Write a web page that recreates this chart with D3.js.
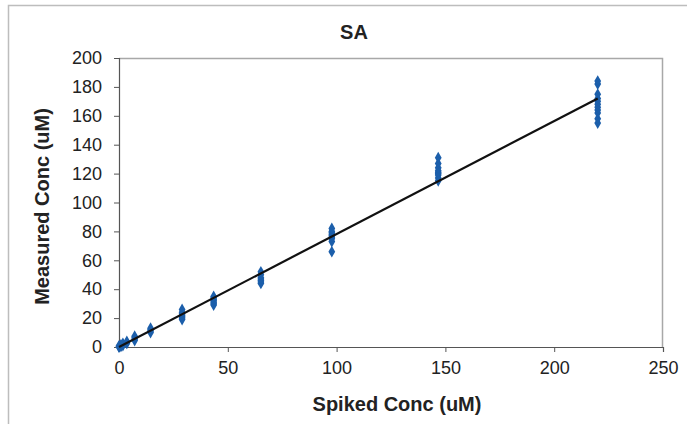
<html>
<head>
<meta charset="utf-8">
<script src="https://d3js.org/d3.v7.min.js"></script>
<style>
  body { margin: 0; background: #fff; }
  text { font-family: "Liberation Sans", Arial, sans-serif; }
</style>
</head>
<body>
<div id="chart"></div>
<script>
// spiked levels (uM) and measured replicates at each level
var spiked = [0, 0.9, 1.8, 3.6, 7.2, 14.5, 29, 43.5, 65.2, 97.8, 146.7, 220];
var measured = [
  [0, 0.3, 0.8],
  [0.5, 1, 1.5],
  [1, 1.8, 2.5],
  [2.5, 3, 3.8],
  [4.5, 5.5, 6.5, 7.5],
  [10, 11, 12, 13],
  [19, 20, 21, 22, 23, 24, 26],
  [29, 30, 31, 32, 33, 34, 35],
  [44, 45, 46, 47, 48, 50, 52],
  [66, 73, 75, 76, 77, 78, 79, 80, 82],
  [115, 117, 119, 120, 121, 122, 124, 127, 131],
  [155, 158, 162, 164, 166, 168, 170, 172, 175, 182, 184]
];
var trendX = [0, 220];
var trendY = [0, 172];
var xTicks = [0, 50, 100, 150, 200, 250];
var yTicks = [0, 20, 40, 60, 80, 100, 120, 140, 160, 180, 200];

var W = 687, H = 424;
var margin = {top: 58, right: 24, bottom: 77, left: 119};
var width = W - margin.left - margin.right,
    height = H - margin.top - margin.bottom;

var svg = d3.select("#chart").append("svg")
    .attr("width", W)
    .attr("height", H);

// outer chart frame
svg.append("rect")
    .attr("x", 8.5).attr("y", 5.5)
    .attr("width", W).attr("height", H)
    .attr("fill", "none")
    .attr("stroke", "#bdbdbd")
    .attr("stroke-width", 1.5);

var g = svg.append("g")
    .attr("transform", "translate(" + margin.left + "," + margin.top + ")");

var x = d3.scaleLinear().domain([0, 250]).range([0, width]);
var y = d3.scaleLinear().domain([0, 200]).range([height, 0]);

// plot area frame (top and right)
g.append("path")
    .attr("d", "M0,0.5H" + (width - 0.5) + "V" + height)
    .attr("fill", "none")
    .attr("stroke", "#a8a8a8")
    .attr("stroke-width", 1.5);

var xAxis = g.append("g")
    .attr("transform", "translate(0," + height + ")")
    .call(d3.axisBottom(x).tickValues(xTicks).tickSize(5).tickPadding(9));

var yAxis = g.append("g")
    .call(d3.axisLeft(y).tickValues(yTicks).tickSize(5).tickPadding(12));

[xAxis, yAxis].forEach(function (a) {
  a.select(".domain").attr("stroke", "#555").attr("stroke-width", 1.2);
  a.selectAll(".tick line").attr("stroke", "#555");
  a.selectAll(".tick text")
    .attr("fill", "#222")
    .style("font-size", "18px")
    .style("font-family", "'Liberation Sans', Arial, sans-serif");
});

// points
var pts = [];
spiked.forEach(function (s, i) {
  measured[i].forEach(function (m) { pts.push({x: s, y: m}); });
});

var diamond = d3.symbol().type(d3.symbolDiamond).size(40);
g.append("g").selectAll("path")
    .data(pts)
    .enter()
    .append("path")
      .attr("d", diamond)
      .attr("transform", function (d) { return "translate(" + x(d.x) + "," + y(d.y) + ")"; })
      .attr("fill", "#1c5fab");

// trend line
var line = d3.line()
    .x(function (d) { return x(d[0]); })
    .y(function (d) { return y(d[1]); });
g.append("path")
    .datum(d3.zip(trendX, trendY))
    .attr("d", line)
    .attr("fill", "none")
    .attr("stroke", "#111")
    .attr("stroke-width", 2.2);

// titles
svg.append("text")
    .attr("x", 354).attr("y", 39)
    .attr("text-anchor", "middle")
    .style("font-size", "20px")
    .style("font-weight", "bold")
    .attr("fill", "#222")
    .text("SA");

svg.append("text")
    .attr("x", margin.left + width / 2 + 6).attr("y", 411)
    .attr("text-anchor", "middle")
    .style("font-size", "20px")
    .style("font-weight", "bold")
    .attr("fill", "#222")
    .text("Spiked Conc (uM)");

svg.append("text")
    .attr("transform", "translate(49," + (margin.top + height / 2 + 4) + ") rotate(-90)")
    .attr("text-anchor", "middle")
    .style("font-size", "20px")
    .style("font-weight", "bold")
    .attr("fill", "#222")
    .text("Measured Conc (uM)");
</script>
</body>
</html>
